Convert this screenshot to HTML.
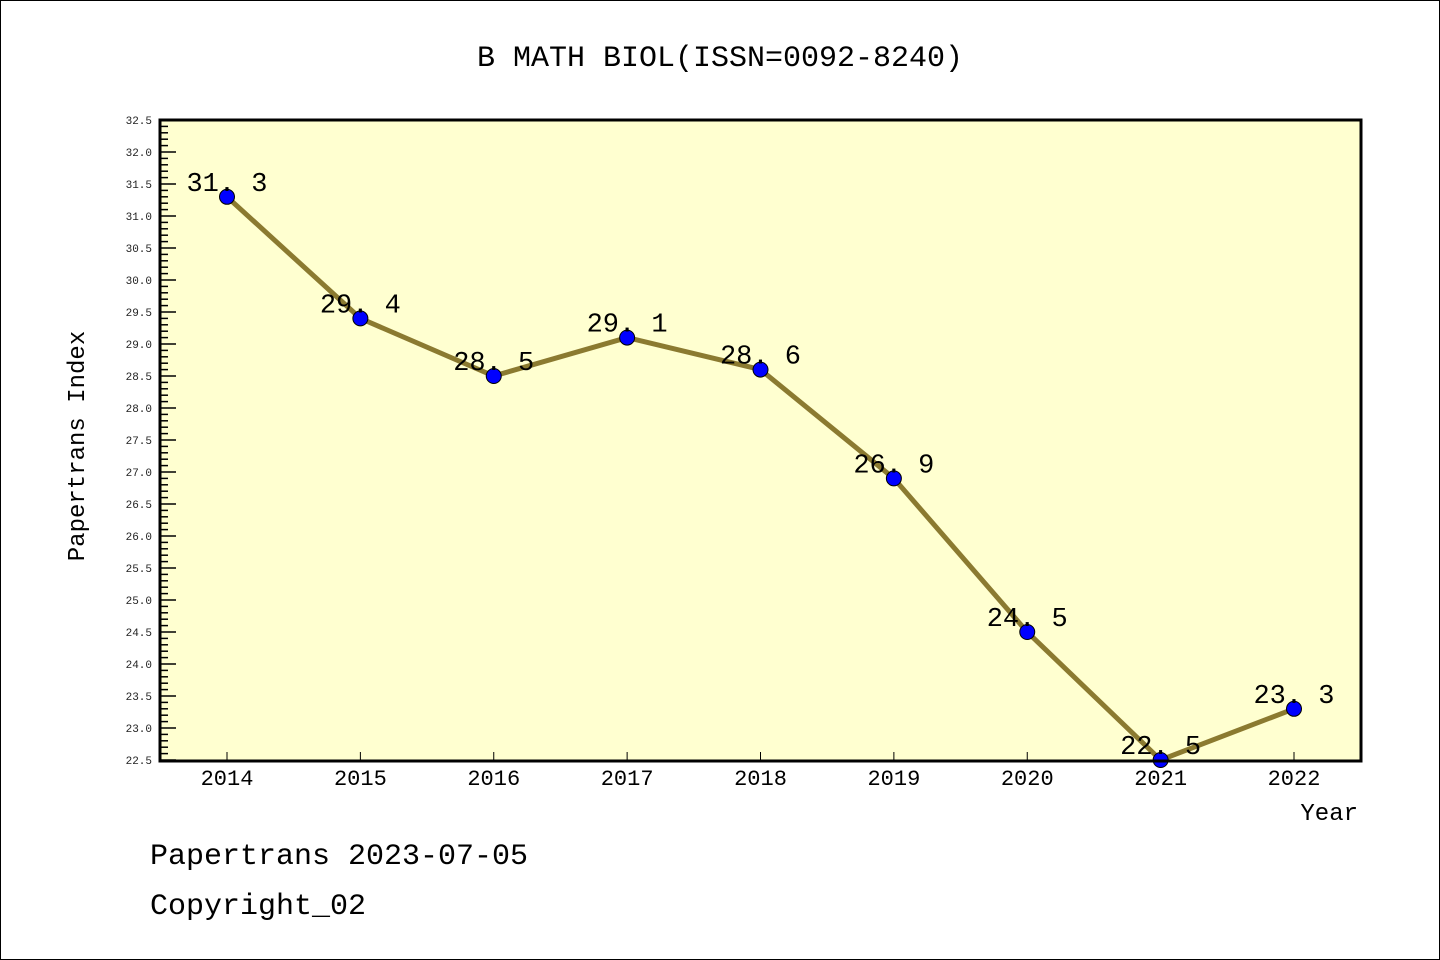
<!DOCTYPE html>
<html><head><meta charset="utf-8"><style>
body{margin:0;background:#fff}
svg{display:block;font-family:"Liberation Mono","DejaVu Sans Mono",monospace}
</style></head><body>
<svg id="chart" width="1440" height="960">
<rect x="0.5" y="0.5" width="1439" height="959" fill="#fff" stroke="#000"/>
<text x="720" y="66" font-size="30" text-anchor="middle">B MATH BIOL(ISSN=0092-8240)</text>
<rect x="160" y="120" width="1201" height="641" fill="#ffffd0"/>
<g id="yaxis"></g>
<g id="xaxis"></g>
<g id="series"></g>
<rect x="160" y="120" width="1201" height="641" fill="none" stroke="#000" stroke-width="3"/>
<text transform="translate(84,446) rotate(-90)" font-size="24" text-anchor="middle">Papertrans Index</text>
<text x="1358" y="820" font-size="24" text-anchor="end">Year</text>
<text x="150" y="864" font-size="30">Papertrans 2023-07-05</text>
<text x="150" y="914" font-size="30">Copyright_02</text>
</svg>
<script>
const years=[2014,2015,2016,2017,2018,2019,2020,2021,2022];
const values=[31.3,29.4,28.5,29.1,28.6,26.9,24.5,22.5,23.3];
const valueLabels=["31.3","29.4","28.5","29.1","28.6","26.9","24.5","22.5","23.3"];
const yMin=22.5,yMax=32.5;
const NS="http://www.w3.org/2000/svg";
const X=y=>227+(y-2014)*(1294-227)/8;
const Y=v=>760-(v-yMin)*64;
function mk(t,a,p){const e=document.createElementNS(NS,t);for(const k in a)e.setAttribute(k,a[k]);p.appendChild(e);return e;}
const ya=document.getElementById('yaxis'),xa=document.getElementById('xaxis'),se=document.getElementById('series');
for(let i=0;i<=100;i++){const v=yMin+i*0.1,y=Y(v),maj=i%5===0;
 const l=mk('line',{x1:160,x2:maj?176:168,y1:y,y2:y,stroke:'#000','stroke-width':1.5},ya);
 
 
 if(maj){const t=mk('text',{x:152,y:y+4,'font-size':11,'text-anchor':'end',fill:'#222'},ya);t.textContent=v.toFixed(1);
 
 }}
years.forEach(yr=>{const x=X(yr);
 const l=mk('line',{x1:x,x2:x,y1:760,y2:752,stroke:'#000','stroke-width':1},xa);
 
 
 const t=mk('text',{x:x,y:785,'font-size':22,'text-anchor':'middle'},xa);t.textContent=yr;
 
 });
const pl=mk('polyline',{points:years.map((yr,i)=>X(yr)+','+Y(values[i])).join(' '),fill:'none',stroke:'#8b7a30','stroke-width':5},se);


years.forEach((yr,i)=>{
 const c=mk('circle',{cx:X(yr),cy:Y(values[i]),r:7.5,fill:'#0000ff',stroke:'#000','stroke-width':1},se);
 
 
 const t=mk('text',{x:X(yr),y:Y(values[i])-6,'font-size':27,'text-anchor':'middle'},se);t.textContent=valueLabels[i].replace('.','.\u00a0');
 
 });
</script>
</body></html>
